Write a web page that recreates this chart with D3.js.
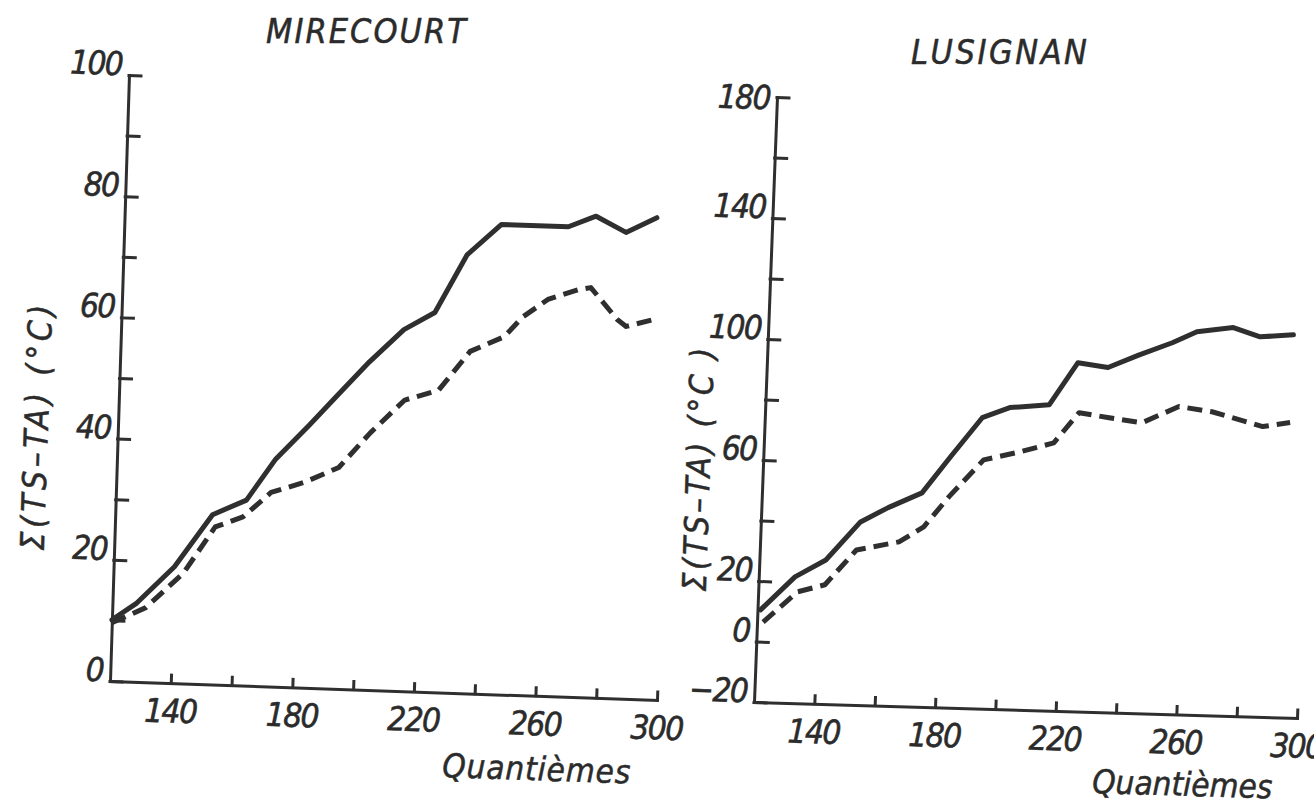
<!DOCTYPE html>
<html>
<head>
<meta charset="utf-8">
<script src="https://cdn.jsdelivr.net/npm/d3@7"></script>
<style>
  html, body { margin: 0; padding: 0; background: #fff; overflow: hidden; }
  svg { display: block; }
  .num  { font-family: 'DejaVu Sans Condensed', 'DejaVu Sans', sans-serif; font-style: oblique; font-size: 33px; letter-spacing: -1.5px; fill: #2b2b2b; stroke: #2b2b2b; stroke-width: 0.6px; }
  .word { font-family: 'DejaVu Sans Condensed', 'DejaVu Sans', sans-serif; font-style: oblique; fill: #2b2b2b; stroke: #2b2b2b; stroke-width: 0.5px; }
</style>
</head>
<body>
<svg id="chart" width="1314" height="808"></svg>
<script>
// ---- data: cumulated soil-minus-air temperature, by day of year ----
const xTicks = [140, 160, 180, 200, 220, 240, 260, 280, 300];
const xTickLabels = [140, 180, 220, 260, 300];

const mirecourtYTicks  = [0, 10, 20, 30, 40, 50, 60, 70, 80, 90, 100];
const mirecourtYLabels = [0, 20, 40, 60, 80, 100];
const mirecourtSolidDays = [120, 128, 140, 152, 163, 172, 183, 192, 202, 213, 223, 233, 244, 266, 275, 285, 295];
const mirecourtSolid     = [10.1, 13.0, 19.2, 28.0, 30.6, 37.4, 43.4, 48.5, 54.1, 59.6, 62.6, 72.3, 77.5, 77.5, 79.4, 76.9, 79.5];
const mirecourtDashDays  = [120, 131, 143, 153, 162, 171, 182, 193, 203, 214, 225, 235, 246, 252, 260, 270, 274, 283, 286, 295];
const mirecourtDash      = [9.6, 12.3, 18.2, 26.0, 27.8, 32.0, 33.9, 36.5, 42.4, 48.0, 49.8, 56.4, 59.0, 62.4, 65.4, 67.2, 67.6, 62.5, 61.4, 62.7];

const lusignanYTicks  = [-20, 0, 20, 40, 60, 80, 100, 120, 140, 160, 180];
const lusignanYLabels = [-20, 0, 20, 60, 100, 140, 180];
const lusignanSolidDays = [121, 132, 142, 153, 162, 173, 182, 192, 201, 214, 223, 233, 243, 254, 262, 274, 283, 294];
const lusignanSolid     = [10.5, 21.7, 27.6, 40.5, 45.5, 50.7, 62.9, 76.1, 79.7, 81.0, 95.2, 93.9, 98.3, 102.7, 106.6, 108.3, 105.5, 106.5];
const lusignanDashDays  = [122, 133, 142, 152, 166, 174, 182, 193, 205, 216, 224, 234, 245, 257, 268, 285, 294];
const lusignanDash      = [6.5, 16.8, 19.4, 31.2, 34.3, 39.5, 49.7, 62.2, 65.2, 68.5, 78.7, 77.3, 76.0, 81.7, 80.3, 75.9, 77.5];

const INK = "#2f2f2f";
const svg = d3.select("#chart");

// Each panel is drawn in an upright frame, then mapped onto a slightly
// tilted frame given by its origin, the end of the x axis and the top of the y axis.
function drawPanel(p) {
  const [ox, oy] = p.origin, [xx, xy] = p.xEnd, [yx, yy] = p.yTop;
  const W = Math.hypot(xx - ox, xy - oy);
  const H = Math.hypot(yx - ox, yy - oy);
  const a = (xx - ox) / W, b = (xy - oy) / W, c = -(yx - ox) / H, d = -(yy - oy) / H;

  const g = svg.append("g")
    .attr("transform", `matrix(${a},${b},${c},${d},${yx},${yy})`)
    .style("color", INK);

  const x = d3.scaleLinear().domain([120, 300]).range([0, W]);
  const y = d3.scaleLinear().domain(p.yDomain).range([H, 0]);

  // y axis, ticks pointing inwards
  const ya = g.append("g").call(
    d3.axisLeft(y).tickValues(p.yTicks).tickSizeInner(-12).tickSizeOuter(0).tickPadding(7)
      .tickFormat(v => p.yLabels.includes(v) ? d3.format("")(v) : "")
  );
  ya.selectAll("text").attr("class", "num").attr("dy", v => v === p.yDomain[1] && p.topCentered ? "0.36em" : "0");

  // x axis
  const xa = g.append("g").attr("transform", `translate(0,${H})`).call(
    d3.axisBottom(x).tickValues(xTicks).tickSizeInner(-8).tickSizeOuter(0).tickPadding(16)
      .tickFormat(v => xTickLabels.includes(v) ? String(v) : "")
  );
  xa.selectAll("text").attr("class", "num");

  g.selectAll(".domain, .tick line")
    .attr("stroke-width", 3).attr("stroke-linecap", "square");

  const line = d3.line().x(dd => x(dd[0])).y(dd => y(dd[1]));
  const solid = d3.zip(p.solidDays, p.solid);
  const dash = d3.zip(p.dashDays, p.dash);

  g.append("path").datum(solid)
    .attr("d", line).attr("fill", "none").attr("stroke", INK)
    .attr("stroke-width", 5).attr("stroke-linejoin", "round").attr("stroke-linecap", "round");
  g.append("path").datum(dash)
    .attr("d", line).attr("fill", "none").attr("stroke", INK)
    .attr("stroke-width", 5).attr("stroke-dasharray", "15,8").attr("stroke-linejoin", "round");

  // titles and axis names
  svg.append("text").attr("class", "word")
    .attr("x", p.title.x).attr("y", p.title.y)
    .attr("font-size", 34).attr("textLength", p.title.len).attr("lengthAdjust", "spacing")
    .text(p.title.text);

  svg.append("text").attr("class", "word")
    .attr("transform", `translate(${p.yName.x},${p.yName.y}) rotate(-88)`)
    .attr("text-anchor", "middle").attr("font-size", 33)
    .attr("textLength", p.yName.len).attr("lengthAdjust", "spacing")
    .text(p.yName.text);

  svg.append("text").attr("class", "word")
    .attr("transform", `translate(${p.xName.x},${p.xName.y}) rotate(${p.xName.rot})`)
    .attr("font-size", 33).attr("textLength", p.xName.len).attr("lengthAdjust", "spacing")
    .text("Quantièmes");
}

drawPanel({
  origin: [110, 681], xEnd: [657, 700], yTop: [129, 75],
  yDomain: [0, 100], yTicks: mirecourtYTicks, yLabels: mirecourtYLabels, topCentered: false,
  solidDays: mirecourtSolidDays, solid: mirecourtSolid,
  dashDays: mirecourtDashDays, dash: mirecourtDash,
  title: { text: "MIRECOURT", x: 266, y: 43, len: 200 },
  yName: { text: "Σ(TS–TA) (°C)", x: 48, y: 428, len: 246 },
  xName: { x: 442, y: 777, len: 188, rot: 2 }
});

drawPanel({
  origin: [754, 702], xEnd: [1297, 718], yTop: [777, 97],
  yDomain: [-20, 180], yTicks: lusignanYTicks, yLabels: lusignanYLabels, topCentered: true,
  solidDays: lusignanSolidDays, solid: lusignanSolid,
  dashDays: lusignanDashDays, dash: lusignanDash,
  title: { text: "LUSIGNAN", x: 911, y: 64, len: 176 },
  yName: { text: "Σ(TS–TA) (°C )", x: 710, y: 470, len: 244 },
  xName: { x: 1092, y: 793, len: 180, rot: 1.7 }
});
</script>
</body>
</html>
